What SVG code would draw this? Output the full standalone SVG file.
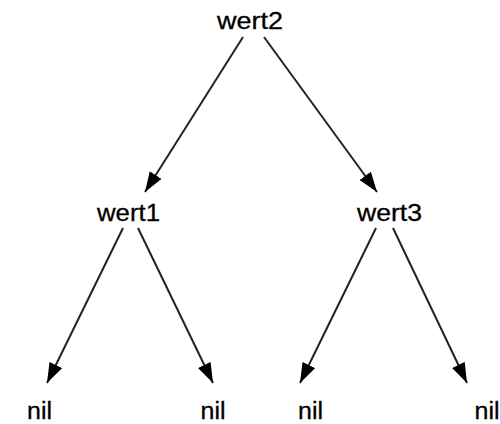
<svg xmlns="http://www.w3.org/2000/svg" width="500" height="424" viewBox="0 0 500 424">
<style>
.t{font-family:"Liberation Sans",Arial,sans-serif;font-size:23px;fill:#000;stroke:#000;stroke-width:0.3;text-anchor:middle}
.e{stroke:#222;stroke-width:2;fill:none;marker-end:url(#ah)}
</style>
<defs>
<marker id="ah" markerUnits="userSpaceOnUse" markerWidth="22" markerHeight="16" refX="20" refY="7" orient="auto" viewBox="0 0 22 16">
<path d="M0,0 L20,7 L0,14 Z" fill="#000"/>
</marker>
</defs>
<rect width="500" height="424" fill="#fff"/>
<g id="connectors">
<line class="e" x1="243" y1="37" x2="145" y2="192"/>
<line class="e" x1="264" y1="37" x2="377" y2="192"/>
<line class="e" x1="123" y1="228" x2="47" y2="383"/>
<line class="e" x1="138" y1="228" x2="213" y2="383"/>
<line class="e" x1="376" y1="228" x2="300" y2="383"/>
<line class="e" x1="393" y1="228" x2="467" y2="383"/>
</g>
<g id="wert2"><text class="t" x="250" y="29" textLength="66" lengthAdjust="spacingAndGlyphs">wert2</text></g>
<g id="wert1"><text class="t" x="128.5" y="221" textLength="63" lengthAdjust="spacingAndGlyphs">wert1</text></g>
<g id="wert3"><text class="t" x="389.5" y="221" textLength="65" lengthAdjust="spacingAndGlyphs">wert3</text></g>
<g id="nil1"><text class="t" x="39.5" y="419" textLength="25" lengthAdjust="spacingAndGlyphs">nil</text></g>
<g id="nil2"><text class="t" x="213" y="419" textLength="25" lengthAdjust="spacingAndGlyphs">nil</text></g>
<g id="nil3"><text class="t" x="310.5" y="419" textLength="25" lengthAdjust="spacingAndGlyphs">nil</text></g>
<g id="nil4"><text class="t" x="487" y="419" textLength="25" lengthAdjust="spacingAndGlyphs">nil</text></g>
</svg>
